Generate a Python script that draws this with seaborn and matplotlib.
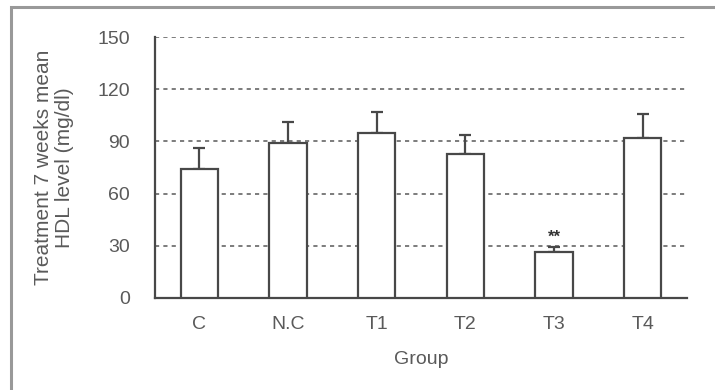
import matplotlib
matplotlib.use("Agg")
import matplotlib.pyplot as plt
import seaborn as sns
import pandas as pd
from matplotlib.patches import Rectangle

groups = ["C", "N.C", "T1", "T2", "T3", "T4"]
means = [74, 89, 95, 83, 26.5, 92]
errors = [12, 12, 12, 10.5, 3, 13.5]
yticks = [0, 30, 60, 90, 120, 150]

sns.set_theme(style="white")
plt.rcParams["font.family"] = ["Liberation Sans", "DejaVu Sans"]

df = pd.DataFrame({"Group": groups, "HDL": means})

fig = plt.figure(figsize=(7.15, 3.9), dpi=100)
fig.patch.set_facecolor("white")
ax = fig.add_axes([0.2168, 0.2359, 0.744, 0.6692])

text_c = "#5a5a5a"
line_c = "#484848"
fs = 14

sns.barplot(data=df, x="Group", y="HDL", ax=ax, color="white",
            edgecolor=line_c, linewidth=1.6, width=0.42, errorbar=None,
            zorder=3)
for p in ax.patches:
    p.set_facecolor("white")

ax.errorbar(range(len(groups)), means, yerr=[[0] * len(groups), errors],
            fmt="none", ecolor=line_c, elinewidth=1.6, capsize=4,
            capthick=1.6, zorder=2)

# significance marker above T3
ax.text(4, means[4] + errors[4] + 1.0, "**", ha="center", va="bottom",
        fontsize=12, color="#333333", fontweight="bold")

ax.set_xlim(-0.5, len(groups) - 0.5)
ax.set_ylim(0, 150)
ax.set_yticks(yticks)
ax.set_yticklabels([str(v) for v in yticks], color=text_c, fontsize=fs)
ax.set_xticks(range(len(groups)))
ax.set_xticklabels(groups, color=text_c, fontsize=fs)
ax.set_xticks([i - 0.5 for i in range(len(groups) + 1)], minor=True)
ax.tick_params(axis="x", which="major", length=0, pad=13)
ax.tick_params(axis="x", which="minor", direction="in", length=3,
               color=line_c, width=1.2)
ax.tick_params(axis="y", direction="in", length=3, color=line_c,
               width=1.2, pad=18)

for v in yticks[1:]:
    ax.axhline(v, color="#666666", linestyle=(0, (2.5, 2.5)),
               linewidth=1.2, zorder=1)

for side in ["top", "right"]:
    ax.spines[side].set_visible(False)
for side in ["left", "bottom"]:
    ax.spines[side].set_color(line_c)
    ax.spines[side].set_linewidth(1.6)

ax.set_xlabel("Group", color=text_c, fontsize=fs, labelpad=13)
ax.set_ylabel("Treatment 7 weeks mean\nHDL level (mg/dl)", color=text_c,
              fontsize=15, linespacing=1.15)
ax.yaxis.set_label_coords(-0.152, 0.5)

# outer frame around the figure
fig.patches.append(Rectangle((11 / 715, -0.1), 1.2, 1.1 - 7 / 390,
                             transform=fig.transFigure, fill=False,
                             edgecolor="#999999", linewidth=2.2))

fig.savefig("out.png", dpi=100, facecolor="white")
